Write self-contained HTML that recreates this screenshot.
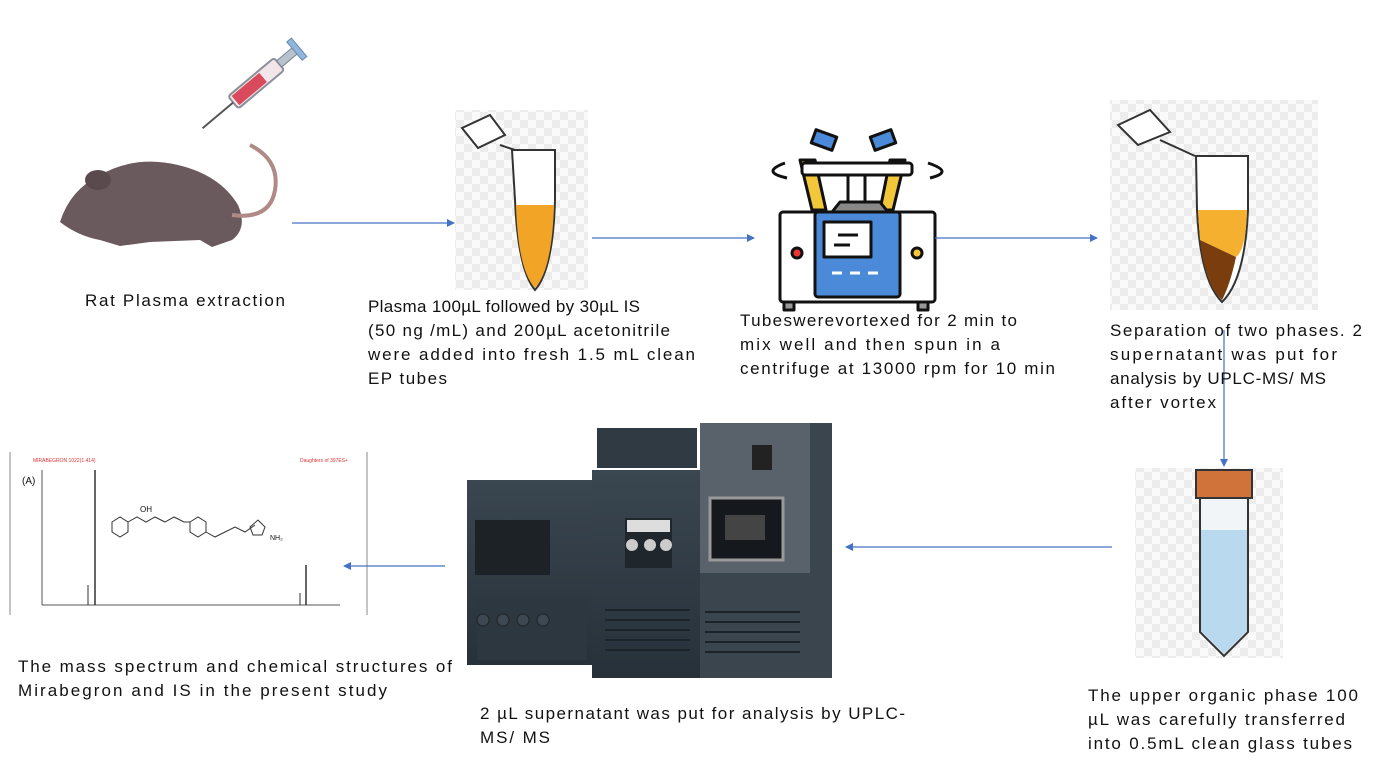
<!DOCTYPE html>
<html><head><meta charset="utf-8"><style>
html,body{margin:0;padding:0;background:#fff;}
svg{display:block}
text{font-family:"Liberation Sans",sans-serif;font-size:17px;fill:#111}
</style></head><body>
<svg width="1379" height="775" viewBox="0 0 1379 775" xmlns="http://www.w3.org/2000/svg">
<defs>
<pattern id="chk" width="16" height="16" patternUnits="userSpaceOnUse">
<rect width="16" height="16" fill="#fafafa"/><rect width="8" height="8" fill="#ececec"/><rect x="8" y="8" width="8" height="8" fill="#ececec"/>
</pattern>
<marker id="ah" markerWidth="8" markerHeight="8" refX="7" refY="4" orient="auto" markerUnits="userSpaceOnUse"><path d="M0,0 L8,4 L0,8 Z" fill="#4472c4"/></marker>
<linearGradient id="dev" x1="0" x2="0" y1="0" y2="1"><stop offset="0" stop-color="#3a4650"/><stop offset="1" stop-color="#27313a"/></linearGradient>
</defs>

<!-- syringe -->
<g transform="rotate(-40 260 80)">
<rect x="225" y="72" width="60" height="16" rx="3" fill="#f3e6ea" stroke="#8a8f99" stroke-width="2"/>
<rect x="228" y="74" width="36" height="12" fill="#d84a5c"/>
<rect x="285" y="76" width="22" height="8" fill="#b7c2cc" stroke="#7a8590"/>
<rect x="305" y="68" width="6" height="24" fill="#8fb6dd" stroke="#6a8aa8"/>
<line x1="225" y1="80" x2="185" y2="80" stroke="#555" stroke-width="2"/>
</g>
<!-- rat -->
<path d="M60 222 Q70 190 100 175 Q135 155 178 165 Q220 175 238 205 Q248 228 232 240 L212 247 L200 240 L150 242 L120 246 L100 240 Q78 236 60 222 Z" fill="#6b5a5d"/>
<ellipse cx="98" cy="180" rx="13" ry="10" fill="#5a4a4e"/>
<path d="M232 215 Q270 220 275 190 Q280 160 250 145" stroke="#b08a86" stroke-width="4" fill="none"/>

<!-- tube 1 -->
<rect x="455" y="110" width="133" height="180" fill="url(#chk)"/>
<path d="M512 150 L555 150 L555 200 Q553 270 535 290 Q518 270 515 200 Z" fill="#fff" stroke="#333" stroke-width="2"/>
<path d="M516 205 L554 205 Q552 270 535 288 Q518 270 516 205 Z" fill="#f2a426"/>
<path d="M462 128 L490 115 L505 135 L478 148 Z M500 145 L515 150" fill="#fff" stroke="#333" stroke-width="2"/>

<!-- centrifuge -->
<g stroke="#111" stroke-width="3" stroke-linejoin="round">
<path d="M800 160 L812 210 L826 210 L815 160 Z" fill="#f2c73a"/>
<path d="M905 160 L893 210 L880 210 L890 160 Z" fill="#f2c73a"/>
<rect x="813" y="133" width="22" height="14" fill="#4a8ad8" transform="rotate(20 824 140)"/>
<rect x="872" y="133" width="22" height="14" fill="#4a8ad8" transform="rotate(-20 883 140)"/>
<rect x="802" y="163" width="110" height="12" rx="3" fill="#fff"/>
<line x1="848" y1="175" x2="848" y2="208"/><line x1="865" y1="175" x2="865" y2="208"/>
<path d="M832 212 L840 202 L880 202 L888 212 Z" fill="#888"/>
<rect x="780" y="212" width="155" height="90" rx="3" fill="#fff"/>
<rect x="815" y="212" width="85" height="85" rx="3" fill="#4a8ad8"/>
<rect x="824" y="222" width="47" height="35" fill="#fff"/>
<circle cx="797" cy="253" r="5" fill="#e33"/><circle cx="917" cy="253" r="5" fill="#f2c73a"/>
<rect x="784" y="302" width="10" height="8" fill="#999"/><rect x="918" y="302" width="10" height="8" fill="#999"/>
</g>
<path d="M785 163 Q760 172 787 178 M928 163 Q955 172 930 178" stroke="#111" stroke-width="3" fill="none"/>
<line x1="838" y1="235" x2="858" y2="235" stroke="#111" stroke-width="3"/><line x1="834" y1="245" x2="850" y2="245" stroke="#111" stroke-width="3"/>
<line x1="832" y1="273" x2="842" y2="273" stroke="#fff" stroke-width="3"/><line x1="850" y1="273" x2="860" y2="273" stroke="#fff" stroke-width="3"/><line x1="868" y1="273" x2="878" y2="273" stroke="#fff" stroke-width="3"/>

<!-- tube 3 -->
<rect x="1110" y="100" width="208" height="210" fill="url(#chk)"/>
<path d="M1196 156 L1248 156 L1248 210 Q1245 280 1222 302 Q1200 280 1197 210 Z" fill="#fff" stroke="#333" stroke-width="2"/>
<path d="M1198 210 L1247 210 Q1246 250 1236 257 L1200 240 Z" fill="#f5b030"/>
<path d="M1200 240 L1236 257 Q1230 285 1222 300 Q1205 285 1200 240 Z" fill="#7a3e0e"/>
<path d="M1118 125 L1150 110 L1170 132 L1138 145 Z M1160 140 L1195 156" fill="#fff" stroke="#333" stroke-width="2"/>

<!-- tube 4 -->
<rect x="1135" y="468" width="148" height="190" fill="url(#chk)"/>
<rect x="1196" y="470" width="56" height="28" fill="#d0733a" stroke="#333" stroke-width="2"/>
<path d="M1200 498 L1248 498 L1248 632 L1224 656 L1200 632 Z" fill="#f2f5f8" stroke="#333" stroke-width="2"/>
<path d="M1201 530 L1247 530 L1247 631 L1224 654 L1201 631 Z" fill="#b9d9ef"/>

<!-- UPLC -->
<g>
<rect x="467" y="480" width="128" height="185" fill="url(#dev)"/>
<rect x="475" y="520" width="75" height="55" fill="#1d2227"/>
<rect x="477" y="600" width="110" height="60" fill="#2d3740"/>
<circle cx="483" cy="620" r="6" fill="#3d4852" stroke="#222"/><circle cx="503" cy="620" r="6" fill="#3d4852" stroke="#222"/><circle cx="523" cy="620" r="6" fill="#3d4852" stroke="#222"/><circle cx="543" cy="620" r="6" fill="#3d4852" stroke="#222"/>
<rect x="592" y="470" width="110" height="208" fill="url(#dev)"/>
<rect x="597" y="428" width="100" height="40" fill="#2f3a43"/>
<rect x="625" y="518" width="47" height="50" fill="#1f262c"/>
<rect x="627" y="520" width="43" height="12" fill="#ddd"/>
<circle cx="632" cy="545" r="6" fill="#ccc"/><circle cx="650" cy="545" r="6" fill="#ccc"/><circle cx="666" cy="545" r="6" fill="#ccc"/>
<rect x="700" y="423" width="132" height="255" fill="#3b454e"/>
<rect x="700" y="423" width="110" height="150" fill="#59626a"/>
<rect x="710" y="498" width="73" height="62" fill="#15191d" stroke="#999" stroke-width="3"/>
<rect x="725" y="515" width="40" height="25" fill="#444"/>
<rect x="752" y="445" width="20" height="25" fill="#222"/>
<g stroke="#1c2329" stroke-width="2"><line x1="605" y1="610" x2="690" y2="610"/><line x1="605" y1="620" x2="690" y2="620"/><line x1="605" y1="630" x2="690" y2="630"/><line x1="605" y1="640" x2="690" y2="640"/><line x1="605" y1="650" x2="690" y2="650"/><line x1="705" y1="612" x2="800" y2="612"/><line x1="705" y1="622" x2="800" y2="622"/><line x1="705" y1="632" x2="800" y2="632"/><line x1="705" y1="642" x2="800" y2="642"/><line x1="705" y1="652" x2="800" y2="652"/></g>
</g>

<!-- spectrum -->
<g>
<line x1="10" y1="452" x2="10" y2="615" stroke="#888"/>
<line x1="367" y1="452" x2="367" y2="615" stroke="#888"/>
<line x1="42" y1="470" x2="42" y2="605" stroke="#555"/>
<line x1="42" y1="605" x2="340" y2="605" stroke="#555"/>
<line x1="95" y1="470" x2="95" y2="605" stroke="#333" stroke-width="1.5"/>
<line x1="88" y1="585" x2="88" y2="605" stroke="#333"/>
<line x1="306" y1="565" x2="306" y2="605" stroke="#333" stroke-width="1.5"/>
<line x1="300" y1="593" x2="300" y2="605" stroke="#333"/>
<text x="22" y="484" style="font-size:10px">(A)</text>
<text x="33" y="462" style="font-size:5px;fill:#d33">MIRABEGRON 1022(1.414)</text>
<text x="300" y="462" style="font-size:5px;fill:#d33">Daughters of 397ES+</text>
<g stroke="#333" fill="none" stroke-width="1">
<polygon points="112,522 120,517 128,522 128,532 120,537 112,532"/>
<path d="M128,522 L137,517 L146,522 L155,517 L165,522 L174,517 L184,522 L190,522"/>
<polygon points="190,522 198,517 206,522 206,532 198,537 190,532"/>
<path d="M206,532 L215,537 L225,532 L235,527 L245,532 L255,525"/>
<polygon points="250,527 258,520 265,527 262,535 253,535"/>
</g>
<text x="140" y="512" style="font-size:8px">OH</text>
<text x="270" y="540" style="font-size:7px">NH₂</text>
</g>

<!-- arrows -->
<g stroke="#4472c4" stroke-width="1.2" fill="none">
<line x1="292" y1="223" x2="454" y2="223" marker-end="url(#ah)"/>
<line x1="592" y1="238" x2="754" y2="238" marker-end="url(#ah)"/>
<line x1="935" y1="238" x2="1097" y2="238" marker-end="url(#ah)"/>
<line x1="1224" y1="330" x2="1224" y2="466" marker-end="url(#ah)"/>
<line x1="1112" y1="547" x2="846" y2="547" marker-end="url(#ah)"/>
<line x1="445" y1="566" x2="344" y2="566" marker-end="url(#ah)"/>
</g>

<!-- labels -->
<text x="85" y="306" textLength="200" lengthAdjust="spacing">Rat Plasma extraction</text>
<text x="368" y="312" textLength="272" lengthAdjust="spacing">Plasma 100µL followed by 30µL IS</text>
<text x="368" y="336" textLength="302" lengthAdjust="spacing">(50 ng /mL) and 200µL acetonitrile</text>
<text x="368" y="360" textLength="327" lengthAdjust="spacing">were added into fresh 1.5 mL clean</text>
<text x="368" y="384" textLength="79" lengthAdjust="spacing">EP tubes</text>
<text x="740" y="326" textLength="277" lengthAdjust="spacing">Tubeswerevortexed for 2 min to</text>
<text x="740" y="350" textLength="260" lengthAdjust="spacing">mix well and then spun in a</text>
<text x="740" y="374" textLength="315" lengthAdjust="spacing">centrifuge at 13000 rpm for 10 min</text>
<text x="1110" y="336" textLength="252" lengthAdjust="spacing">Separation of two phases. 2</text>
<text x="1110" y="360" textLength="227" lengthAdjust="spacing">supernatant was put for</text>
<text x="1110" y="384" textLength="216" lengthAdjust="spacing">analysis by UPLC-MS/ MS</text>
<text x="1110" y="408" textLength="106" lengthAdjust="spacing">after vortex</text>
<text x="1088" y="701" textLength="270" lengthAdjust="spacing">The upper organic phase 100</text>
<text x="1088" y="725" textLength="257" lengthAdjust="spacing">µL was carefully transferred</text>
<text x="1088" y="749" textLength="264" lengthAdjust="spacing">into 0.5mL clean glass tubes</text>
<text x="480" y="719" textLength="425" lengthAdjust="spacing">2 µL supernatant was put for analysis by UPLC-</text>
<text x="480" y="743" textLength="70" lengthAdjust="spacing">MS/ MS</text>
<text x="18" y="672" textLength="434" lengthAdjust="spacing">The mass spectrum and chemical structures of</text>
<text x="18" y="696" textLength="369" lengthAdjust="spacing">Mirabegron and IS in the present study</text>
</svg>
</body></html>
